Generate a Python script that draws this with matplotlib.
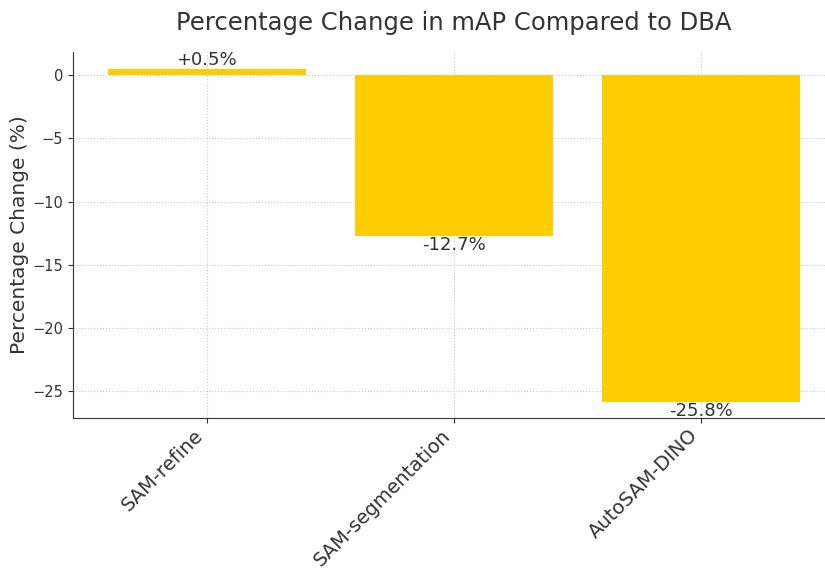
import matplotlib
matplotlib.use("Agg")
import matplotlib.pyplot as plt

categories = ["SAM-refine", "SAM-segmentation", "AutoSAM-DINO"]
changes = [0.5, -12.7, -25.8]
labels = ["+0.5%", "-12.7%", "-25.8%"]

fig = plt.figure(figsize=(8.25, 5.77), dpi=100)
ax = fig.add_axes([73/825, 1 - 418/577, (835 - 73)/825, (418 - 52)/577])

x = list(range(len(categories)))
bars = ax.bar(x, changes, width=0.8, color="#FFCC00", zorder=2)

ax.set_xticks(x)
ax.set_xticklabels(categories, rotation=45, ha="right", fontsize=14, color="#333333")
ax.tick_params(axis="y", labelsize=10.5, colors="#333333")
ax.tick_params(axis="x", colors="#333333", pad=2)
ax.set_ylabel("Percentage Change (%)", fontsize=14.5, color="#333333", labelpad=2)
ax.set_title("Percentage Change in mAP Compared to DBA", fontsize=17.5, color="#333333", pad=16)

ax.grid(True, color="#cccccc", linestyle=":", linewidth=0.8, zorder=0)
ax.set_axisbelow(True)
for s in ["top", "right"]:
    ax.spines[s].set_visible(False)
ax.spines["left"].set_color("#333333")
ax.spines["bottom"].set_color("#333333")

for xi, v, lab in zip(x, changes, labels):
    ax.text(xi, v, lab, ha="center", va="bottom" if v >= 0 else "top",
            fontsize=13, color="#333333")

ax.set_xlim(-0.54, 2.54)
ax.set_ylim(-27.1, 1.82)

fig.savefig("out.png", dpi=100)
